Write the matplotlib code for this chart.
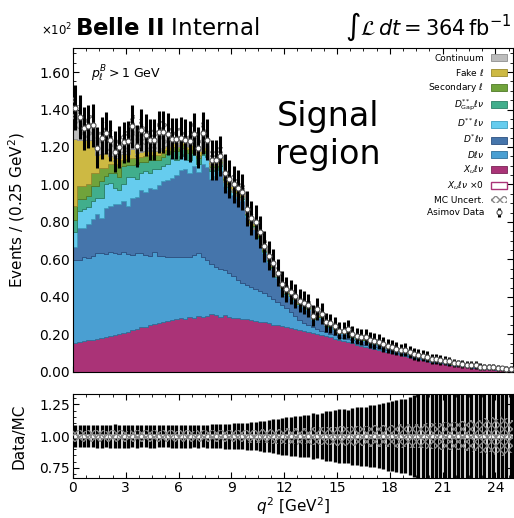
import numpy as np
import matplotlib
matplotlib.use("Agg")
import matplotlib.pyplot as plt
from matplotlib.patches import Patch
from matplotlib.ticker import MultipleLocator, AutoMinorLocator, FuncFormatter

# q^2 binning: 100 bins of 0.25 GeV^2
q2_edges = np.linspace(0.0, 25.0, 101)

# events per bin for each component (stacked bottom -> top)
xu_lnu = [
    15.5, 16.0, 16.3, 16.8, 17.0, 17.6, 17.9, 18.5, 19.0, 19.6,
    20.4, 20.9, 21.5, 22.3, 22.9, 23.8, 24.2, 24.9, 25.4, 26.1,
    26.8, 27.4, 27.9, 28.5, 28.7, 28.4, 29.3, 29.0, 29.6, 29.4,
    30.1, 31.0, 30.2, 29.5, 30.4, 29.2, 29.0, 28.8, 28.3, 28.5,
    27.9, 27.2, 26.8, 26.5, 25.9, 25.2, 24.8, 24.3, 23.9, 23.4,
    22.8, 22.3, 21.7, 21.2, 20.6, 20.1, 19.5, 18.9, 18.4, 17.8,
    17.2, 16.6, 16.1, 15.5, 14.5, 14.0, 13.5, 13.0, 12.4, 11.9,
    11.3, 10.8, 10.2, 9.6, 9.1, 8.7, 7.9, 7.3, 6.8, 6.3,
    5.8, 5.4, 5.0, 4.6, 4.2, 3.9, 3.5, 3.2, 2.9, 2.6,
    2.4, 2.1, 1.9, 1.7, 1.5, 1.3, 1.1, 0.9, 0.8, 0.6,
]
d_lnu = [
    44.0, 43.5, 45.0, 44.2, 44.8, 46.0, 45.5, 44.6, 45.2, 43.8,
    42.5, 43.0, 41.2, 40.0, 40.8, 39.5, 38.0, 37.2, 38.5, 35.8,
    34.8, 34.0, 33.2, 32.8, 32.5, 33.0, 32.0, 33.5, 33.6, 31.8,
    29.5, 26.5, 26.0, 25.6, 24.0, 23.5, 22.0, 20.5, 19.0, 17.8,
    17.5, 17.0, 16.2, 15.8, 14.8, 13.8, 12.6, 11.5, 10.0, 8.5,
    7.0, 5.5, 4.6, 4.0, 3.5, 3.0, 2.6, 2.3, 2.0, 1.8,
    1.6, 1.5, 1.4, 1.3, 1.2, 1.1, 1.0, 1.0, 0.9, 0.9,
    0.8, 0.8, 0.7, 0.7, 0.6, 0.6, 0.5, 0.5, 0.5, 0.4,
    0.4, 0.4, 0.3, 0.3, 0.3, 0.3, 0.2, 0.2, 0.2, 0.2,
    0.2, 0.2, 0.1, 0.1, 0.1, 0.1, 0.1, 0.1, 0.1, 0.1,
]
dstar_lnu = [
    7.0, 17.5, 15.7, 17.7, 19.6, 20.4, 18.6, 24.5, 24.3, 26.0,
    26.5, 27.1, 25.8, 30.7, 29.8, 34.0, 33.8, 35.9, 33.6, 37.6,
    40.0, 41.1, 42.4, 43.7, 46.3, 46.6, 44.7, 47.5, 43.3, 49.8,
    49.9, 45.6, 48.3, 52.2, 44.8, 44.1, 43.2, 43.3, 43.7, 36.1,
    32.3, 31.8, 27.8, 21.0, 17.9, 15.8, 12.5, 8.3, 7.3, 7.8,
    8.3, 7.9, 8.4, 8.0, 3.6, 8.2, 6.7, 3.1, 3.4, 2.7,
    1.4, 2.1, 3.7, 1.4, 1.5, 1.6, 2.2, 1.2, 1.4, 1.4,
    1.5, 1.0, 1.3, 0.9, 0.9, 1.6, 1.3, 0.8, 0.8, 1.0,
    1.2, 0.5, 0.8, 0.8, 0.7, 0.7, 0.3, 0.4, 0.3, 0.4,
    0.6, 0.9, 0.3, 0.4, 0.4, 0.5, 0.3, 0.4, 0.3, 0.4,
]
dss_lnu = [
    8.0, 9.0, 10.0, 9.3, 9.6, 9.0, 11.0, 12.4, 12.5, 8.6,
    7.6, 9.0, 15.5, 11.0, 9.5, 8.7, 11.0, 8.0, 10.5, 8.5,
    8.5, 8.5, 10.5, 8.0, 7.5, 8.0, 7.0, 5.5, 4.5, 4.5,
    5.0, 4.0, 3.0, 2.5, 2.0, 1.8, 1.6, 1.5, 1.3, 1.2,
    1.1, 1.0, 0.9, 0.9, 0.8, 0.8, 0.7, 0.7, 0.6, 0.6,
    0.6, 0.5, 0.5, 0.5, 0.5, 0.4, 0.4, 0.4, 0.4, 0.4,
    0.3, 0.3, 0.3, 0.3, 0.3, 0.3, 0.3, 0.3, 0.3, 0.3,
    0.2, 0.2, 0.2, 0.2, 0.2, 0.1, 0.1, 0.1, 0.1, 0.1,
    0.1, 0.1, 0.1, 0.1, 0.1, 0.1, 0.1, 0.1, 0.1, 0.1,
    0.05, 0.05, 0.05, 0.05, 0.05, 0.05, 0.05, 0.05, 0.05, 0.05,
]
dss_gap_lnu = [
    6.5, 6.0, 5.0, 6.0, 8.0, 6.0, 9.0, 4.5, 5.0, 8.0,
    7.0, 10.0, 6.5, 6.5, 8.0, 6.0, 5.0, 7.0, 5.0, 5.0,
    4.5, 5.0, 4.0, 5.0, 4.0, 3.5, 4.0, 3.5, 3.0, 3.0,
    2.5, 2.0, 1.8, 1.5, 1.3, 1.1, 1.0, 0.9, 0.8, 0.7,
    0.6, 0.6, 0.5, 0.5, 0.5, 0.4, 0.4, 0.4, 0.4, 0.4,
    0.3, 0.3, 0.3, 0.3, 0.3, 0.3, 0.3, 0.3, 0.3, 0.3,
    0.2, 0.2, 0.2, 0.2, 0.2, 0.2, 0.2, 0.2, 0.2, 0.2,
    0.1, 0.1, 0.1, 0.1, 0.1, 0.1, 0.1, 0.1, 0.1, 0.1,
    0.1, 0.1, 0.1, 0.1, 0.1, 0.1, 0.1, 0.1, 0.1, 0.1,
    0.05, 0.05, 0.05, 0.05, 0.05, 0.05, 0.05, 0.05, 0.05, 0.05,
]
secondary = [
    7.5, 7.0, 7.0, 6.0, 7.0, 7.0, 7.0, 4.5, 5.0, 5.0,
    6.0, 3.0, 3.0, 3.5, 3.0, 2.5, 3.0, 2.5, 2.5, 2.5,
    2.3, 2.2, 2.2, 2.0, 2.0, 1.9, 1.8, 1.8, 1.7, 1.6,
    1.5, 1.4, 1.3, 1.2, 1.1, 1.0, 1.0, 0.9, 0.9, 0.8,
    0.8, 0.7, 0.7, 0.7, 0.6, 0.6, 0.6, 0.5, 0.5, 0.5,
    0.4, 0.4, 0.4, 0.4, 0.4, 0.4, 0.4, 0.4, 0.4, 0.4,
    0.3, 0.3, 0.3, 0.3, 0.3, 0.3, 0.3, 0.3, 0.3, 0.3,
    0.2, 0.2, 0.2, 0.2, 0.2, 0.1, 0.1, 0.1, 0.1, 0.1,
    0.1, 0.1, 0.1, 0.1, 0.1, 0.1, 0.1, 0.1, 0.1, 0.1,
    0.05, 0.05, 0.05, 0.05, 0.05, 0.05, 0.05, 0.05, 0.05, 0.05,
]
fake = [
    36.0, 25.0, 25.0, 24.0, 18.0, 9.5, 7.0, 8.0, 4.0, 3.0,
    4.0, 3.0, 3.0, 5.0, 3.0, 3.0, 2.8, 2.8, 2.6, 2.6,
    2.5, 2.4, 2.4, 2.3, 2.2, 2.2, 2.1, 2.0, 2.0, 1.9,
    1.8, 1.7, 1.6, 1.5, 1.4, 1.4, 1.3, 1.2, 1.2, 1.1,
    1.0, 1.0, 0.9, 0.9, 0.8, 0.8, 0.8, 0.7, 0.7, 0.7,
    0.6, 0.6, 0.6, 0.6, 0.6, 0.6, 0.6, 0.6, 0.6, 0.6,
    0.5, 0.5, 0.5, 0.5, 0.5, 0.5, 0.5, 0.5, 0.5, 0.5,
    0.3, 0.3, 0.3, 0.3, 0.3, 0.3, 0.3, 0.3, 0.3, 0.3,
    0.2, 0.2, 0.2, 0.2, 0.2, 0.2, 0.2, 0.2, 0.2, 0.2,
    0.2, 0.2, 0.2, 0.2, 0.2, 0.2, 0.2, 0.2, 0.2, 0.2,
]
continuum = [
    16.5, 12.0, 6.0, 7.0, 7.5, 4.0, 9.0, 10.5, 8.5, 3.5,
    6.0, 6.5, 6.5, 12.0, 3.5, 11.5, 8.7, 5.7, 5.9, 9.9,
    8.6, 6.4, 1.9, 2.2, 1.8, 0.4, 2.1, 4.2, 1.8, 5.5,
    3.7, 1.0, 0.8, 1.0, 1.0, 0.9, 0.9, 0.9, 0.8, 0.8,
    0.8, 0.7, 0.7, 0.7, 0.7, 0.6, 0.6, 0.6, 0.6, 0.6,
    0.5, 0.5, 0.5, 0.5, 0.5, 0.5, 0.5, 0.5, 0.5, 0.5,
    0.5, 0.5, 0.5, 0.5, 0.5, 0.5, 0.5, 0.5, 0.5, 0.5,
    0.3, 0.3, 0.3, 0.3, 0.3, 0.3, 0.3, 0.3, 0.3, 0.3,
    0.2, 0.2, 0.2, 0.2, 0.2, 0.2, 0.2, 0.2, 0.2, 0.2,
    0.2, 0.2, 0.2, 0.2, 0.2, 0.2, 0.2, 0.2, 0.2, 0.2,
]
# relative MC statistical uncertainty per bin
mc_rel_unc = [
    0.045, 0.046, 0.044, 0.047, 0.045, 0.048, 0.045, 0.044, 0.046, 0.047,
    0.045, 0.046, 0.044, 0.045, 0.047, 0.044, 0.045, 0.046, 0.045, 0.044,
    0.045, 0.046, 0.045, 0.044, 0.046, 0.045, 0.045, 0.044, 0.046, 0.045,
    0.045, 0.046, 0.046, 0.045, 0.047, 0.047, 0.048, 0.048, 0.049, 0.050,
    0.051, 0.052, 0.053, 0.055, 0.056, 0.058, 0.060, 0.062, 0.061, 0.063,
    0.064, 0.066, 0.065, 0.067, 0.070, 0.068, 0.070, 0.072, 0.073, 0.074,
    0.076, 0.077, 0.075, 0.078, 0.080, 0.081, 0.080, 0.083, 0.084, 0.085,
    0.086, 0.088, 0.087, 0.090, 0.092, 0.089, 0.093, 0.095, 0.097, 0.096,
    0.100, 0.104, 0.102, 0.106, 0.110, 0.108, 0.115, 0.112, 0.118, 0.120,
    0.125, 0.118, 0.130, 0.140, 0.128, 0.150, 0.135, 0.160, 0.142, 0.130,
]

components = [
    (xu_lnu, r"$X_u\ell\nu$", "#aa3377", "#7a2456"),
    (d_lnu, r"$D\ell\nu$", "#4a9fd2", "#2f6f99"),
    (dstar_lnu, r"$D^{*}\ell\nu$", "#4575ab", "#2c5080"),
    (dss_lnu, r"$D^{**}\ell\nu$", "#66ccee", "#3f9fc0"),
    (dss_gap_lnu, r"$D^{**}_{\mathrm{Gap}}\ell\nu$", "#41ae8c", "#2c7f66"),
    (secondary, r"Secondary $\ell$", "#70a33b", "#4f7a28"),
    (fake, r"Fake $\ell$", "#cdb943", "#9a8a2e"),
    (continuum, "Continuum", "#bdbdbd", "#8f8f8f"),
]

fig = plt.figure(figsize=(5.14, 5.18), dpi=100)
ax = fig.add_axes([0.142, 0.282, 0.856, 0.626])
rax = fig.add_axes([0.142, 0.077, 0.856, 0.162], sharex=ax)

# stacked histogram
bottom = np.zeros(100)
for vals, label, color, edge in components:
    top = bottom + np.array(vals)
    ax.stairs(top, q2_edges, baseline=bottom, fill=True, facecolor=color,
              edgecolor=edge, linewidth=0.6, zorder=2)
    bottom = top
total = bottom
centers = 0.5 * (q2_edges[:-1] + q2_edges[1:])

# MC uncertainty band
unc = total * np.array(mc_rel_unc)
ax.fill_between(q2_edges, np.append(total - unc, total[-1] - unc[-1]),
                np.append(total + unc, total[-1] + unc[-1]), step="post",
                facecolor="none", edgecolor="#888888", hatch="xxxx",
                linewidth=0, zorder=3)

# Asimov data = MC total, Poisson errors
err = np.sqrt(total)
data = ax.errorbar(centers, total, yerr=err, fmt="o", color="black",
                   ecolor="black", elinewidth=2.2, capsize=0, ms=3.6,
                   mfc="white", mec="#555555", mew=0.8, zorder=4)

# ratio panel
rel = np.array(mc_rel_unc)
rax.fill_between(q2_edges, np.append(1 - rel, 1 - rel[-1]),
                 np.append(1 + rel, 1 + rel[-1]), step="post",
                 facecolor="none", edgecolor="#888888", hatch="xxxx",
                 linewidth=0, zorder=3)
rax.errorbar(centers, np.ones(100), yerr=err / total, fmt="o", color="black",
             ecolor="black", elinewidth=2.4, capsize=0, ms=3.2,
             mfc="white", mec="#777777", mew=0.6, zorder=2)

# axes styling
for a in (ax, rax):
    a.tick_params(which="both", direction="in", top=True, right=True,
                  labelsize=10, pad=2)
    a.tick_params(which="major", length=4.5)
    a.tick_params(which="minor", length=2.5)
    a.xaxis.set_major_locator(MultipleLocator(3))
    a.xaxis.set_minor_locator(AutoMinorLocator())
    a.yaxis.set_minor_locator(AutoMinorLocator())

ax.set_xlim(0, 25)
ax.set_ylim(0, 173)
ax.yaxis.set_major_locator(MultipleLocator(20))
ax.yaxis.set_major_formatter(FuncFormatter(lambda v, p: f"{v / 100:.2f}"))
ax.tick_params(labelbottom=False)
ax.set_ylabel(r"Events / (0.25 GeV$^2$)", fontsize=11)

rax.set_ylim(0.67, 1.33)
rax.yaxis.set_major_locator(MultipleLocator(0.25))
rax.yaxis.set_major_formatter(FuncFormatter(lambda v, p: f"{v:.2f}"))
rax.set_ylabel("Data/MC", fontsize=11)
rax.set_xlabel(r"$q^2$ [GeV$^2$]", fontsize=11, labelpad=0)
ax.yaxis.set_label_coords(-0.105, 0.5)
rax.yaxis.set_label_coords(-0.105, 0.5)

# texts
fig.text(0.140, 0.932, r"$\times10^{2}$", fontsize=8.5, ha="right", va="baseline")
fig.text(0.146, 0.932, r"$\mathbf{Belle\ II}$ Internal", fontsize=16.5,
         ha="left", va="baseline")
fig.text(0.996, 0.932, r"$\int\mathcal{L}\,dt = 364\,\mathrm{fb}^{-1}$",
         fontsize=15, ha="right", va="baseline")
ax.text(0.04, 0.95, r"$p_\ell^B > 1$ GeV", transform=ax.transAxes,
        fontsize=9, ha="left", va="top")
ax.text(0.58, 0.728, "Signal\nregion", transform=ax.transAxes, fontsize=24,
        ha="center", va="center", linespacing=1.2)

# legend
handles = []
labels = []
for vals, label, color, edge in reversed(components[1:]):
    handles.append(Patch(facecolor=color, edgecolor=edge, linewidth=0.6))
    labels.append(label)
handles.append(Patch(facecolor=components[0][2], edgecolor=components[0][3],
                     linewidth=0.6))
labels.append(components[0][1])
handles.append(Patch(facecolor="white", edgecolor="#aa3377", linewidth=1.0))
labels.append(r"$X_u\ell\nu$ $\times 0$")
handles.append(Patch(facecolor="none", edgecolor="#888888", hatch="xxxx",
                     linewidth=0))
labels.append("MC Uncert.")
handles.append(data)
labels.append("Asimov Data")
ax.legend(handles, labels, loc="upper right", frameon=False, fontsize=6.5,
          markerfirst=False, labelspacing=0.4, handlelength=1.7,
          handleheight=0.8, borderaxespad=0.3)

fig.savefig("out.png", dpi=100)
